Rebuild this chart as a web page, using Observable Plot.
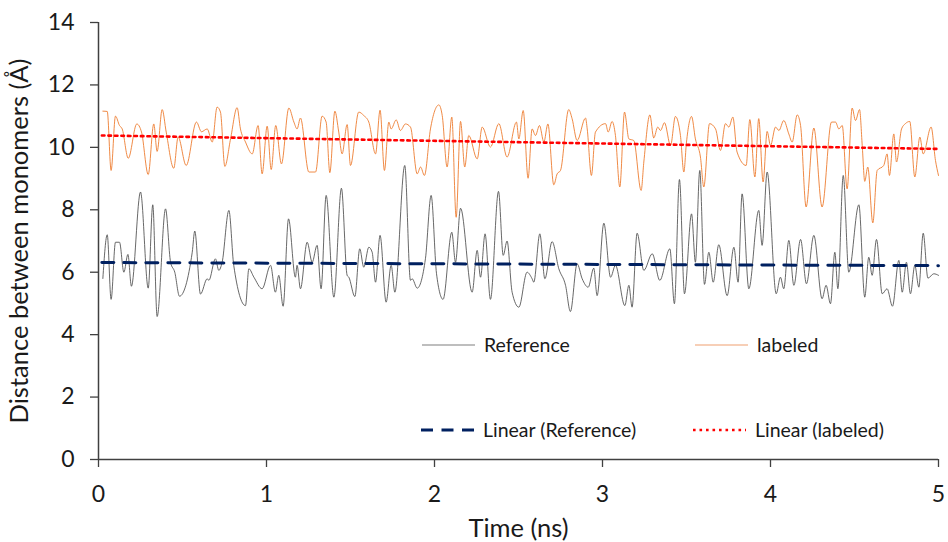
<!DOCTYPE html>
<html><head><meta charset="utf-8">
<script src="https://cdn.jsdelivr.net/npm/d3@7"></script>
<script src="https://cdn.jsdelivr.net/npm/@observablehq/plot@0.6"></script>
<style>
body{margin:0;background:#fff;}
#chart svg{font-family:Lato, "Open Sans", sans-serif;}
</style>
</head><body><div id="chart"></div>
<script>
// Series names
const seriesNames = ["Reference", "labeled", "Linear (Reference)", "Linear (labeled)"];
// Axis ticks
const xTicks = [0, 1, 2, 3, 4, 5];
const yTicks = [0, 2, 4, 6, 8, 10, 12, 14];
const xTitle = "Time (ns)";
const yTitle = "Distance between monomers (Å)";

// Reference series: [time (ns), distance (Å)]
const referencePoints = [
[0.026,5.80],[0.052,7.20],[0.075,5.13],[0.101,6.96],[0.125,6.96],[0.151,6.00],[0.175,6.57],[0.196,5.55],[0.250,8.57],[0.296,5.49],[0.323,8.16],[0.349,4.58],[0.399,8.03],[0.429,6.32],[0.454,6.00],[0.482,5.23],[0.558,6.64],[0.573,7.32],[0.607,5.30],
[0.647,5.79],[0.657,5.74],[0.696,6.43],[0.716,6.06],[0.736,6.32],[0.776,7.98],[0.805,6.22],[0.875,4.93],[0.895,6.11],[0.925,5.84],[0.974,5.47],[1.024,6.22],[1.053,5.36],[1.073,5.90],[1.099,4.91],[1.131,7.71],[1.172,5.84],[1.182,6.22],[1.202,5.47],
[1.242,6.96],[1.272,6.32],[1.301,6.86],[1.325,5.47],[1.355,8.46],[1.401,5.20],[1.446,8.69],[1.480,5.90],[1.490,5.84],[1.526,5.22],[1.555,6.75],[1.579,6.16],[1.609,6.80],[1.629,6.64],[1.649,5.68],[1.676,7.18],[1.712,5.04],[1.742,6.22],[1.764,5.36],[1.823,9.42],[1.857,5.74],[1.867,5.79],
[1.897,5.49],[1.946,6.43],[1.980,8.46],[2.012,5.95],[2.051,5.13],[2.103,7.28],[2.125,6.32],[2.155,8.05],[2.224,5.36],[2.254,6.70],[2.274,5.84],[2.301,7.23],[2.333,5.13],[2.381,8.59],[2.409,6.54],[2.432,7.00],[2.462,5.36],[2.502,4.88],
[2.551,6.00],[2.581,5.79],[2.591,5.68],[2.627,7.23],[2.657,5.79],[2.700,6.98],[2.740,6.11],[2.780,5.58],[2.809,4.74],[2.849,6.27],[2.879,5.79],[2.915,5.52],[2.948,6.13],[2.968,5.25],[3.008,7.57],[3.048,5.84],[3.077,6.22],[3.133,4.93],
[3.157,5.58],[3.176,4.88],[3.206,7.25],[3.246,6.06],[3.296,6.59],[3.341,5.74],[3.401,6.75],[3.428,4.99],[3.458,8.97],[3.488,5.31],[3.530,7.87],[3.553,6.32],[3.579,9.26],[3.607,5.61],[3.633,6.64],[3.659,5.68],[3.692,6.88],[3.742,5.25],
[3.782,6.80],[3.807,5.68],[3.831,8.51],[3.871,5.47],[3.930,7.98],[3.950,6.86],[3.980,9.21],[4.034,5.31],[4.059,5.84],[4.079,5.47],[4.109,7.02],[4.139,5.58],[4.179,7.05],[4.214,5.63],[4.258,7.18],[4.307,5.15],[4.331,5.58],[4.357,4.99],[4.383,6.64],
[4.401,5.47],[4.433,9.10],[4.466,6.00],[4.526,8.16],[4.561,5.20],[4.585,6.48],[4.605,5.90],[4.631,7.05],[4.665,5.31],[4.694,5.47],[4.726,4.91],[4.764,6.38],[4.784,5.36],[4.809,6.32],[4.833,5.31],[4.859,6.22],[4.883,5.52],[4.909,7.25],[4.937,5.81],[4.972,5.95],[5.000,5.90]
];

// labeled series: [time (ns), distance (Å)]
const labeledPoints = [
[0.026,11.16],[0.052,11.15],[0.075,9.26],[0.101,11.00],[0.125,10.70],[0.141,10.59],[0.177,9.65],[0.228,10.75],[0.256,10.49],[0.296,9.13],[0.329,10.75],[0.349,9.87],[0.379,11.21],[0.403,10.49],[0.448,9.33],[0.474,10.33],[0.522,9.42],[0.583,10.81],[0.613,10.50],
[0.647,10.59],[0.677,10.17],[0.706,11.29],[0.726,11.13],[0.752,9.39],[0.786,10.27],[0.825,11.27],[0.845,10.59],[0.875,10.17],[0.915,9.79],[0.950,10.70],[0.974,9.15],[1.004,10.68],[1.028,9.29],[1.055,10.70],[1.089,9.47],[1.133,11.26],[1.163,10.81],[1.182,10.59],[1.202,10.94],[1.252,9.21],
[1.292,9.21],[1.331,11.00],[1.355,10.81],[1.377,9.19],[1.407,11.16],[1.430,10.49],[1.450,9.79],[1.480,10.73],[1.500,9.42],[1.549,11.13],[1.579,11.02],[1.609,10.81],[1.649,9.79],[1.676,11.19],[1.702,9.26],[1.728,10.81],[1.742,10.59],[1.772,10.88],[1.797,10.54],[1.827,10.75],[1.857,10.65],
[1.897,9.15],[1.917,9.37],[1.940,9.10],[1.976,10.59],[2.026,11.36],[2.046,11.02],[2.075,9.37],[2.103,10.97],[2.129,7.76],[2.155,10.83],[2.180,9.37],[2.204,10.38],[2.254,9.63],[2.284,10.65],[2.333,10.01],[2.383,10.76],[2.432,9.69],[2.488,10.81],
[2.502,10.27],[2.528,11.18],[2.557,9.01],[2.581,10.59],[2.601,10.38],[2.625,10.70],[2.651,10.17],[2.675,10.75],[2.710,8.80],[2.730,9.15],[2.750,9.26],[2.799,11.21],[2.819,10.92],[2.849,10.22],[2.899,10.94],[2.909,10.59],[2.934,9.10],[2.958,10.49],[3.018,10.76],[3.034,10.49],[3.057,10.83],[3.077,10.38],[3.103,8.73],[3.131,11.13],
[3.157,10.27],[3.186,10.22],[3.230,8.62],[3.246,9.53],[3.282,11.04],[3.305,10.30],[3.329,10.65],[3.345,10.54],[3.369,10.79],[3.405,10.06],[3.434,10.99],[3.464,10.38],[3.484,9.21],[3.500,10.17],[3.530,10.99],[3.553,10.27],[3.583,9.69],[3.603,8.73],[3.637,10.76],[3.673,10.59],[3.702,9.90],[3.732,10.76],
[3.752,10.65],[3.776,10.97],[3.801,9.85],[3.855,9.42],[3.877,10.89],[3.907,9.05],[3.930,10.92],[3.956,8.89],[3.980,10.51],[4.000,10.06],[4.030,10.65],[4.050,10.54],[4.079,10.86],[4.109,10.43],[4.129,10.17],[4.159,11.04],[4.179,10.70],[4.212,8.09],[4.258,10.62],[4.307,8.09],[4.363,10.81],
[4.387,10.81],[4.407,10.59],[4.427,10.70],[4.456,8.67],[4.486,11.26],[4.506,10.86],[4.530,11.21],[4.546,10.06],[4.561,8.91],[4.579,9.37],[4.609,7.58],[4.635,9.26],[4.674,9.42],[4.694,9.79],[4.708,9.10],[4.734,10.43],[4.750,9.53],[4.780,10.59],[4.803,10.76],[4.829,10.83],[4.859,9.05],[4.889,10.33],[4.909,9.79],[4.956,10.65],[4.982,9.58],[5.000,9.10]
];

// Linear trend lines (read end points)
const trendTime = [0.02, 5.0];
const trendReference = [6.31, 6.21];
const trendLabeled = [10.38, 9.95];

// Colours
const colorReference = "#4d4d4d";
const colorLabeled = "#ED7D31";
const colorTrendRef = "#002060";
const colorTrendLab = "#FF0000";

const toRows = pts => pts.map(([t, v]) => ({t, v}));
const refRows = toRows(referencePoints);
const labRows = toRows(labeledPoints);
const trendRefRows = trendTime.map((t, i) => ({t, v: trendReference[i]}));
const trendLabRows = trendTime.map((t, i) => ({t, v: trendLabeled[i]}));

const plot = Plot.plot({
  width: 948, height: 542,
  marginLeft: 98, marginRight: 10, marginTop: 22, marginBottom: 83,
  style: {fontFamily: "Lato, 'Open Sans', sans-serif", fontSize: "23px", color: "#1a1a1a", background: "#fff", overflow: "visible"},
  x: {domain: [0, 5]},
  y: {domain: [0, 14]},
  marks: [
    Plot.axisX(xTicks, {tickSize: 8, tickPadding: 18, fontSize: 23,
      label: xTitle, labelAnchor: "center", labelArrow: "none", labelOffset: 77, tickFormat: d => String(d)}),
    Plot.axisY(yTicks, {tickSize: 8, tickPadding: 16, fontSize: 23,
      label: yTitle, labelAnchor: "center", labelArrow: "none", labelOffset: 89, tickFormat: d => String(d)}),
    Plot.ruleX([0], {stroke: "#404040", strokeWidth: 1.5}),
    Plot.ruleY([0], {stroke: "#404040", strokeWidth: 1.5}),
    Plot.line(labRows, {x: "t", y: "v", stroke: colorLabeled, strokeWidth: 0.9, curve: "monotone-x"}),
    Plot.line(refRows, {x: "t", y: "v", stroke: colorReference, strokeWidth: 0.85, curve: "monotone-x"}),
    Plot.line(trendRefRows, {x: "t", y: "v", stroke: colorTrendRef, strokeWidth: 3, strokeDasharray: "12,10"}),
    Plot.line(trendLabRows, {x: "t", y: "v", stroke: colorTrendLab, strokeWidth: 2.6, strokeDasharray: "2.6,3.9"})
  ]
});

const svg = d3.select(plot);
// Axis styling
svg.selectAll("g[aria-label$='tick label'] text").style("font-size", "23px").attr("fill", "#1a1a1a");
svg.selectAll("g[aria-label$='axis label'] text").style("font-size", "25.5px").attr("fill", "#1a1a1a");
svg.selectAll("g[aria-label$='-axis tick']").attr("stroke", "#404040").attr("stroke-width", 1.3);

// Legend inside the plot area
const legendItems = [
  {name: seriesNames[0], x: 422, y: 345, stroke: "#7f7f7f", w: 1.1, dash: null},
  {name: seriesNames[1], x: 695, y: 345, stroke: "#F0A070", w: 1.2, dash: null},
  {name: seriesNames[2], x: 421, y: 430, stroke: colorTrendRef, w: 3, dash: "12,8.5"},
  {name: seriesNames[3], x: 693, y: 430, stroke: colorTrendLab, w: 2.6, dash: "2.6,3.9"}
];
const lg = svg.append("g").attr("class", "legend").attr("text-anchor", "start");
legendItems.forEach(it => {
  lg.append("line").attr("x1", it.x).attr("x2", it.x + 53).attr("y1", it.y).attr("y2", it.y)
    .attr("stroke", it.stroke).attr("stroke-width", it.w).attr("stroke-dasharray", it.dash);
  lg.append("text").attr("x", it.x + 62).attr("y", it.y).attr("dy", "0.35em")
    .attr("text-anchor", "start").style("font-size", "19.5px").attr("fill", "#1a1a1a").text(it.name);
});

document.getElementById("chart").appendChild(plot);
</script>
</body></html>
